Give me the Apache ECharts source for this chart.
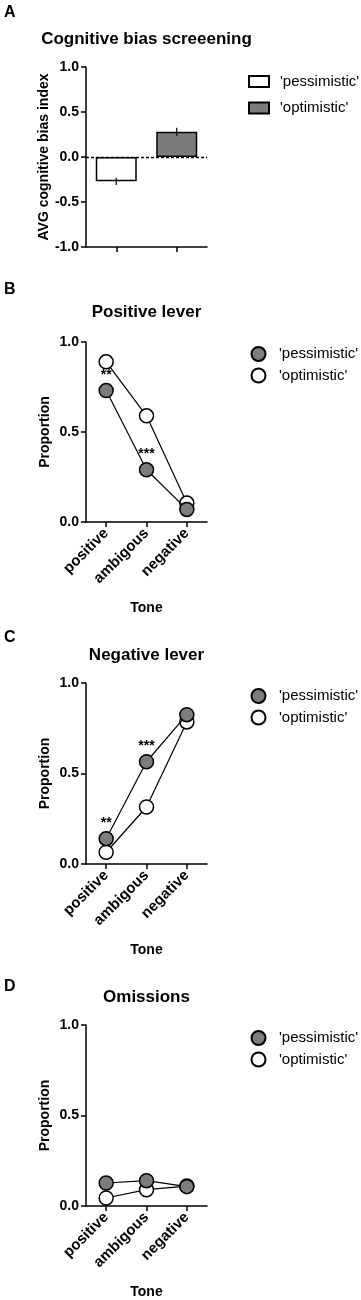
<!DOCTYPE html>
<html>
<head>
<meta charset="utf-8">
<script src="https://cdn.jsdelivr.net/npm/echarts@6/dist/echarts.min.js"></script>
<style>
  html, body { margin: 0; padding: 0; background: #fff; }
  #chart { width: 361px; height: 1300px; }
</style>
</head>
<body>
<div id="chart"></div>
<script>
// Data
const tones = ['positive', 'ambigous', 'negative'];
const groups = ["'pessimistic'", "'optimistic'"];
const biasIndex = [-0.27, 0.28];
const biasSem = [0.04, 0.045];
const posPess = [0.73, 0.29, 0.07];
const posOpt = [0.89, 0.59, 0.105];
const negPess = [0.14, 0.565, 0.825];
const negOpt = [0.065, 0.315, 0.785];
const omiPess = [0.127, 0.14, 0.107];
const omiOpt = [0.044, 0.09, 0.11];
const starsPos = ['**', '***', ''];
const starsNeg = ['**', '***', ''];
const starsOmi = ['', '', ''];
const panelLetters = ['A', 'B', 'C', 'D'];
const panelTitles = ['Cognitive bias screeening', 'Positive lever', 'Negative lever', 'Omissions'];

const FONT = '"Liberation Sans", Arial, sans-serif';
const GRAY = '#7c7c7c';
const AXIS_LINE = { lineStyle: { color: '#000', width: 1.5 } };
const AXIS_TICK = { show: true, length: 5, lineStyle: { color: '#000', width: 1.5 } };

// grid boxes in px
const grids = [
  { left: 86, width: 121, top: 67, height: 180 },
  { left: 86, width: 121, top: 342, height: 180 },
  { left: 86, width: 121, top: 683, height: 181 },
  { left: 86, width: 121, top: 1025, height: 181 },
];
const titleY = [40, 313, 656, 998];
const letterY = [13, 290, 638, 987];
const legendTop = [74, 346, 688, 1030];

const chart = echarts.init(document.getElementById('chart'));

const titles = [];
panelLetters.forEach((l, i) => {
  titles.push({
    text: l, left: 4, top: letterY[i] - 8, padding: 0,
    textStyle: { fontFamily: FONT, fontSize: 16, fontWeight: 'bold', color: '#000' },
  });
  titles.push({
    text: panelTitles[i], left: 146.5, textAlign: 'center', top: titleY[i] - 9, padding: 0,
    textStyle: { fontFamily: FONT, fontSize: 17, fontWeight: 'bold', color: '#000' },
  });
});

const xAxes = [];
const yAxes = [];
grids.forEach((g, i) => {
  const isA = i === 0;
  xAxes.push({
    gridIndex: i,
    type: 'category',
    data: isA ? groups : tones,
    boundaryGap: true,
    axisLine: { onZero: false, ...AXIS_LINE },
    axisTick: { ...AXIS_TICK, alignWithLabel: true },
    axisLabel: {
      show: !isA, rotate: 45, margin: 9, interval: 0,
      fontFamily: FONT, fontSize: 15, fontWeight: 'bold', color: '#000',
    },
    name: isA ? '' : 'Tone',
    nameLocation: 'middle',
    nameGap: 79,
    nameTextStyle: { fontFamily: FONT, fontSize: 14, fontWeight: 'bold', color: '#000' },
  });
  yAxes.push({
    gridIndex: i,
    type: 'value',
    min: isA ? -1 : 0,
    max: 1,
    interval: 0.5,
    splitLine: { show: false },
    axisLine: { show: true, ...AXIS_LINE },
    axisTick: AXIS_TICK,
    axisLabel: {
      margin: 7, formatter: v => v.toFixed(1),
      fontFamily: FONT, fontSize: 14, fontWeight: 'bold', color: '#000',
    },
    name: isA ? 'AVG cognitive bias index' : 'Proportion',
    nameLocation: 'middle',
    nameGap: 34,
    nameTextStyle: { fontFamily: FONT, fontSize: 14, fontWeight: 'bold', color: '#000' },
  });
});

const series = [];
// Panel A bars
series.push({
  name: groups[0] + '#A', type: 'bar', xAxisIndex: 0, yAxisIndex: 0,
  data: [biasIndex[0], '-'], barWidth: 41, barGap: '-100%',
  itemStyle: { color: '#fff', borderColor: '#000', borderWidth: 1.5 },
  markLine: {
    silent: true, symbol: 'none', label: { show: false },
    lineStyle: { color: '#000', type: [3, 2], width: 1.3 },
    data: [{ yAxis: 0 }],
  },
});
series.push({
  name: groups[1] + '#A', type: 'bar', xAxisIndex: 0, yAxisIndex: 0,
  data: ['-', biasIndex[1]], barWidth: 41, barGap: '-100%',
  itemStyle: { color: GRAY, borderColor: '#000', borderWidth: 1.5 },
});
series.push({
  type: 'custom', xAxisIndex: 0, yAxisIndex: 0, z: 5, silent: true,
  data: biasIndex.map((v, k) => [k, v, biasSem[k]]),
  renderItem: (params, api) => {
    const x = api.value(0), v = api.value(1), e = api.value(2);
    const p1 = api.coord([x, v - e]);
    const p2 = api.coord([x, v + e]);
    return {
      type: 'line',
      shape: { x1: p1[0], y1: p1[1], x2: p2[0], y2: p2[1] },
      style: { stroke: '#000', lineWidth: 1.2 },
    };
  },
});

const linePanels = [
  [posPess, posOpt, starsPos],
  [negPess, negOpt, starsNeg],
  [omiPess, omiOpt, starsOmi],
];
const suffix = ['B', 'C', 'D'];
linePanels.forEach(([pess, opt, stars], k) => {
  const gi = k + 1;
  series.push({
    name: groups[1] + '#' + suffix[k], type: 'line', xAxisIndex: gi, yAxisIndex: gi,
    data: opt, symbol: 'circle', symbolSize: 14, z: 3,
    lineStyle: { color: '#000', width: 1.2 },
    itemStyle: { color: '#fff', borderColor: '#000', borderWidth: 1.5 },
  });
  series.push({
    name: groups[0] + '#' + suffix[k], type: 'line', xAxisIndex: gi, yAxisIndex: gi,
    data: pess.map((v, j) => ({
      value: v,
      label: {
        show: stars[j] !== '', position: 'top', distance: 1, formatter: stars[j],
        fontFamily: FONT, fontSize: 14, fontWeight: 'bold', color: '#000',
      },
    })),
    symbol: 'circle', symbolSize: 14, z: 4,
    lineStyle: { color: '#000', width: 1.2 },
    itemStyle: { color: GRAY, borderColor: '#000', borderWidth: 1.5 },
  });
});

const legends = ['A', 'B', 'C', 'D'].map((s, i) => ({
  left: i === 0 ? 248 : 250,
  top: legendTop[i],
  orient: 'vertical',
  data: groups.map(g => ({ name: g + '#' + s, icon: i === 0 ? 'rect' : undefined })),
  formatter: n => n.split('#')[0],
  itemWidth: i === 0 ? 20 : 15,
  itemHeight: i === 0 ? 11 : 17.5,
  itemGap: i === 0 ? 11.5 : 5.5,
  selectedMode: false,
  padding: 0,
  textStyle: {
    fontFamily: FONT, fontSize: 15, color: '#000',
    padding: [0, 0, 0, i === 0 ? 6 : 8],
  },
}));

chart.setOption({
  animation: false,
  backgroundColor: '#fff',
  title: titles,
  legend: legends,
  grid: grids,
  xAxis: xAxes,
  yAxis: yAxes,
  series: series,
});
</script>
</body>
</html>
